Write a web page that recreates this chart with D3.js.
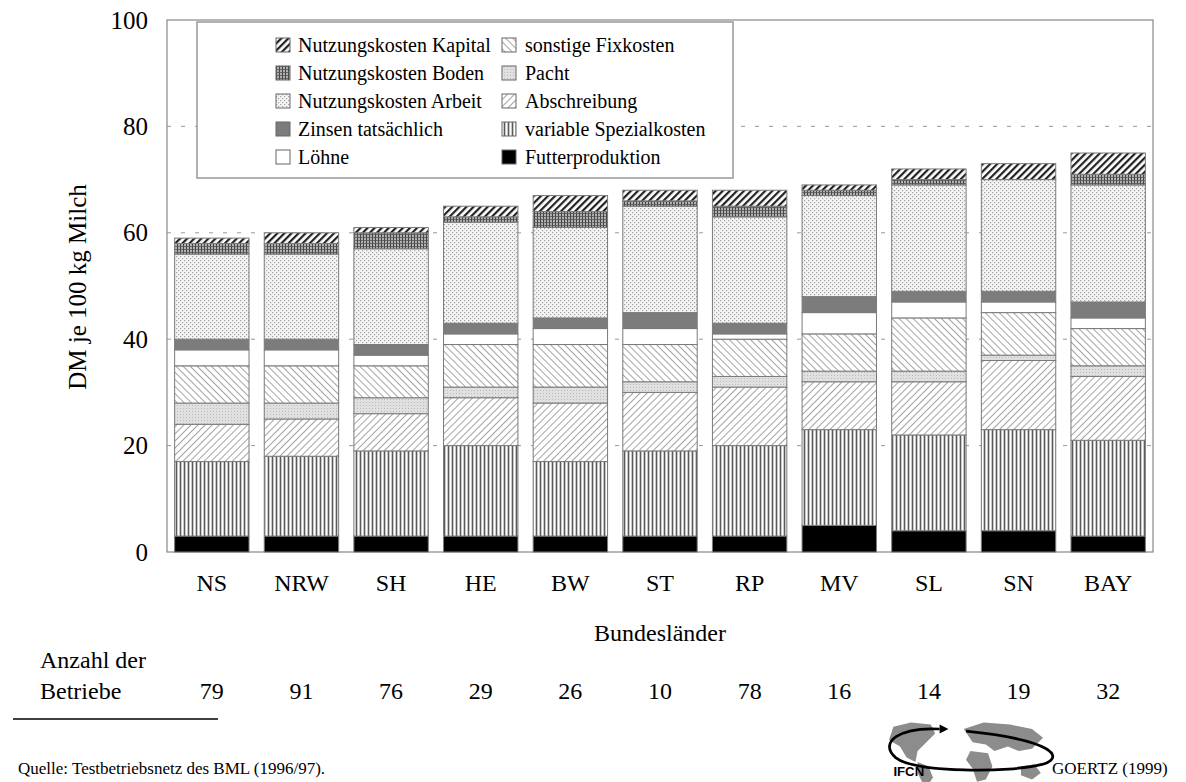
<!DOCTYPE html>
<html><head><meta charset="utf-8">
<script src="https://cdn.jsdelivr.net/npm/d3@7"></script>
<style>
html,body{margin:0;padding:0;background:#fff;}
svg text{font-family:"Liberation Serif","Times New Roman",serif;fill:#000;}
</style></head>
<body>
<svg id="chart" width="1186" height="782" font-family="Liberation Serif"></svg>
<script>
// ---- data ----
const categories = ["NS","NRW","SH","HE","BW","ST","RP","MV","SL","SN","BAY"];
const betriebe = [79,91,76,29,26,10,78,16,14,19,32];
const futterproduktion      = [3,3,3,3,3,3,3,5,4,4,3];
const variableSpezialkosten = [14,15,16,17,14,16,17,18,18,19,18];
const abschreibung          = [7,7,7,9,11,11,11,9,10,13,12];
const pacht                 = [4,3,3,2,3,2,2,2,2,1,2];
const sonstigeFixkosten     = [7,7,6,8,8,7,7,7,10,8,7];
const loehne                = [3,3,2,2,3,3,1,4,3,2,2];
const zinsenTatsaechlich    = [2,2,2,2,2,3,2,3,2,2,3];
const nutzungskostenArbeit  = [16,16,18,19,17,20,20,19,20,21,22];
const nutzungskostenBoden   = [2,2,3,1,3,1,2,1,1,0,2];
const nutzungskostenKapital = [1,2,1,2,3,2,3,1,2,3,4];
const yTicks = [0,20,40,60,80,100];

const seriesNames = ["Futterproduktion","variable Spezialkosten","Abschreibung","Pacht","sonstige Fixkosten","Löhne","Zinsen tatsächlich","Nutzungskosten Arbeit","Nutzungskosten Boden","Nutzungskosten Kapital"];
const seriesValues = [futterproduktion,variableSpezialkosten,abschreibung,pacht,sonstigeFixkosten,loehne,zinsenTatsaechlich,nutzungskostenArbeit,nutzungskostenBoden,nutzungskostenKapital];
const legendLeft = ["Nutzungskosten Kapital","Nutzungskosten Boden","Nutzungskosten Arbeit","Zinsen tatsächlich","Löhne"];
const legendRight = ["sonstige Fixkosten","Pacht","Abschreibung","variable Spezialkosten","Futterproduktion"];

const SERIF = '"Liberation Serif", "Times New Roman", serif';
const svg = d3.select("#chart");
const defs = svg.append("defs");

// ---- patterns ----
function pat(id,w,h){ return defs.append("pattern").attr("id",id).attr("patternUnits","userSpaceOnUse").attr("width",w).attr("height",h); }
let p;
p = pat("pVar",4,4);
p.append("rect").attr("width",4).attr("height",4).attr("fill","#c8c8c8");
p.append("rect").attr("x",0).attr("width",1).attr("height",4).attr("fill","#5a5a5a");
p.append("rect").attr("x",2).attr("width",1).attr("height",4).attr("fill","#fff");
p = pat("pAbs",5,5).attr("patternTransform","rotate(45)");
p.append("rect").attr("width",5).attr("height",5).attr("fill","#fff");
p.append("rect").attr("x",0).attr("width",0.9).attr("height",5).attr("fill","#999");
p = pat("pPacht",3,3);
p.append("rect").attr("width",3).attr("height",3).attr("fill","#e0e0e0");
p.append("rect").attr("x",0).attr("y",0).attr("width",1).attr("height",1).attr("fill","#bbb");
p = pat("pSonst",5,5).attr("patternTransform","rotate(-45)");
p.append("rect").attr("width",5).attr("height",5).attr("fill","#fff");
p.append("rect").attr("x",0).attr("width",0.9).attr("height",5).attr("fill","#999");
p = pat("pArbeit",4,4);
p.append("rect").attr("width",4).attr("height",4).attr("fill","#f4f4f4");
p.append("rect").attr("x",0).attr("y",0).attr("width",1.2).attr("height",1.2).attr("fill","#a0a0a0");
p.append("rect").attr("x",2).attr("y",2).attr("width",1.2).attr("height",1.2).attr("fill","#a0a0a0");
p = pat("pBoden",3,3);
p.append("rect").attr("width",3).attr("height",3).attr("fill","#b0b0b0");
p.append("rect").attr("x",0).attr("width",1).attr("height",3).attr("fill","#444");
p.append("rect").attr("y",0).attr("width",3).attr("height",0.8).attr("fill","#555");
p = pat("pKap",5,5).attr("patternTransform","rotate(45)");
p.append("rect").attr("width",5).attr("height",5).attr("fill","#fff");
p.append("rect").attr("x",0).attr("width",2.2).attr("height",5).attr("fill","#222");

const fills = {
 "Futterproduktion":"#000",
 "variable Spezialkosten":"url(#pVar)",
 "Abschreibung":"url(#pAbs)",
 "Pacht":"url(#pPacht)",
 "sonstige Fixkosten":"url(#pSonst)",
 "Löhne":"#fff",
 "Zinsen tatsächlich":"#7c7c7c",
 "Nutzungskosten Arbeit":"url(#pArbeit)",
 "Nutzungskosten Boden":"url(#pBoden)",
 "Nutzungskosten Kapital":"url(#pKap)"
};

// ---- table ----
const table = categories.map((c,i)=>{
  const o = {cat:c};
  seriesNames.forEach((s,j)=>o[s]=seriesValues[j][i]);
  return o;
});
const stacked = d3.stack().keys(seriesNames)(table);

// ---- scales ----
const plot = {left:167,right:1153,top:20,bottom:552};
const x = d3.scaleBand().domain(categories).range([plot.left,plot.right]).paddingInner(0.17).paddingOuter(0.085);
const y = d3.scaleLinear().domain([0,100]).range([plot.bottom,plot.top]);

// gridlines
svg.append("g").selectAll("line").data(yTicks.filter(t=>t>0&&t<100)).join("line")
  .attr("x1",plot.left).attr("x2",plot.right)
  .attr("y1",d=>y(d)).attr("y2",d=>y(d))
  .attr("stroke","#999").attr("stroke-width",1).attr("stroke-dasharray","4,10");

// frame
svg.append("rect").attr("x",plot.left).attr("y",plot.top)
  .attr("width",plot.right-plot.left).attr("height",plot.bottom-plot.top)
  .attr("fill","none").attr("stroke","#888").attr("stroke-width",1.2);

// y axis
const yAxis = svg.append("g").attr("transform",`translate(${plot.left},0)`)
  .call(d3.axisLeft(y).tickValues(yTicks).tickSize(0).tickPadding(19));
yAxis.attr("font-family",SERIF);
yAxis.select(".domain").remove();
yAxis.selectAll("text").attr("font-size",25).attr("fill","#000");

svg.append("text").attr("transform","translate(86,287) rotate(-90)")
  .attr("text-anchor","middle").attr("font-size",25).text("DM je 100 kg Milch");

// bars
svg.append("g").selectAll("g").data(stacked).join("g")
  .attr("fill",d=>fills[d.key])
  .selectAll("rect").data(d=>d).join("rect")
  .attr("x",d=>x(d.data.cat)).attr("width",x.bandwidth())
  .attr("y",d=>y(d[1])).attr("height",d=>Math.max(0,y(d[0])-y(d[1])))
  .attr("stroke","#7a7a7a").attr("stroke-width",1);

// x axis labels
const xAxis = svg.append("g").attr("transform",`translate(0,${plot.bottom})`)
  .call(d3.axisBottom(x).tickSize(0).tickPadding(22));
xAxis.attr("font-family",SERIF);
xAxis.select(".domain").remove();
xAxis.selectAll("text").attr("font-size",24).attr("fill","#000");

svg.append("text").attr("x",660).attr("y",641).attr("text-anchor","middle").attr("font-size",24).text("Bundesländer");

// Betriebe row
svg.append("text").attr("x",40).attr("y",668).attr("font-size",24).text("Anzahl der");
svg.append("text").attr("x",40).attr("y",699).attr("font-size",24).text("Betriebe");
svg.append("g").selectAll("text").data(categories).join("text")
  .attr("x",d=>x(d)+x.bandwidth()/2).attr("y",699).attr("text-anchor","middle").attr("font-size",24)
  .text((d,i)=>betriebe[i]);

svg.append("line").attr("x1",13).attr("x2",218).attr("y1",719).attr("y2",719).attr("stroke","#000").attr("stroke-width",1.5);
svg.append("text").attr("x",18).attr("y",774).attr("font-size",17).text("Quelle: Testbetriebsnetz des BML (1996/97).");
svg.append("text").attr("x",1052).attr("y",774).attr("font-size",17).text("GOERTZ (1999)");

// legend
const lg = svg.append("g");
lg.append("rect").attr("x",197).attr("y",22).attr("width",536).attr("height",156)
  .attr("fill","#fff").attr("stroke","#999").attr("stroke-width",1.5);
const rowY = [45,73,101,129,157];
function legendCol(names,sx,tx){
  const g = lg.append("g");
  g.selectAll("rect").data(names).join("rect")
    .attr("x",sx).attr("y",(d,i)=>rowY[i]-7).attr("width",14).attr("height",14)
    .attr("fill",d=>fills[d]).attr("stroke","#666").attr("stroke-width",1);
  g.selectAll("text").data(names).join("text")
    .attr("x",tx).attr("y",(d,i)=>rowY[i]+7).attr("font-size",20).text(d=>d);
}
legendCol(legendLeft,276,298);
legendCol(legendRight,502,525);

// IFCN logo (simplified)
const logo = svg.append("g").attr("transform","translate(878,718) scale(1.1)");
const land = [
 "M14,8 L30,4 L48,6 L52,14 L44,22 L36,30 L34,40 L26,36 L20,26 L10,20 Z",
 "M36,40 L46,44 L50,54 L46,60 L40,58 L36,50 Z",
 "M78,10 L96,4 L120,6 L140,10 L150,18 L140,28 L128,30 L118,26 L106,30 L98,24 L86,22 Z",
 "M84,30 L100,32 L104,44 L98,56 L90,58 L86,46 L80,38 Z",
 "M130,44 L142,42 L148,50 L140,56 L130,52 Z"
];
logo.selectAll("path.land").data(land).join("path").attr("class","land").attr("d",d=>d).attr("fill","#8c8c8c");
logo.append("path").attr("d","M56,10 C20,8 0,22 16,36 C34,50 120,50 150,42 C170,36 160,20 80,12")
  .attr("fill","none").attr("stroke","#000").attr("stroke-width",2.5);
logo.append("path").attr("d","M56,6 L64,10 L56,14 Z").attr("fill","#000");
const ifcn = logo.append("text").attr("x",14).attr("y",53).attr("font-weight","bold").attr("font-size",12).text("IFCN");

// enforce fonts
svg.selectAll("text").style("font-family",SERIF);
ifcn.style("font-family",'"Liberation Sans", Arial, sans-serif');
</script>
</body></html>
